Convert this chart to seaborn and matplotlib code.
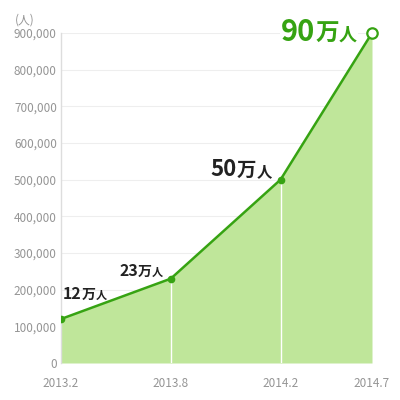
import matplotlib
matplotlib.use("Agg")
import matplotlib.pyplot as plt
import matplotlib.transforms as mtransforms
from matplotlib.ticker import FuncFormatter
import seaborn as sns
import pandas as pd

# data
months = [0, 6, 12, 17]          # months since 2013.2
period_labels = ["2013.2", "2013.8", "2014.2", "2014.7"]
users = [120000, 230000, 500000, 900000]
man_labels = ["12", "23", "50", "90"]

GREEN = "#36a312"
FILL = "#bfe69a"
GRAY = "#959595"

sns.set_theme(style="white")
plt.rcParams["font.family"] = ["Noto Sans CJK JP", "DejaVu Sans"]

df = pd.DataFrame({"month": months, "users": users})

fig = plt.figure(figsize=(4, 4), dpi=100)
ax = fig.add_axes([0.1525, 0.0925, 0.93 - 0.1525, 0.9175 - 0.0925])

ax.set_axisbelow(True)
ax.yaxis.grid(True, color="#eeeeee", lw=0.8)
ax.fill_between(df["month"], df["users"], 0, color=FILL, lw=0, zorder=2)
ax.vlines(months[1:3], 0, users[1:3], color="white", lw=1, zorder=2.5)
sns.lineplot(data=df, x="month", y="users", color=GREEN, lw=1.8, ax=ax, zorder=3)
ax.plot(months[:3], users[:3], "o", color=GREEN, ms=4.5, zorder=4)
ax.plot(months[3:], users[3:], "o", mfc="white", mec=GREEN, mew=1.6, ms=7.5,
        zorder=5, clip_on=False)

ax.set_xlim(0, 17)
ax.set_ylim(0, 900000)
ax.set_xticks(months)
ax.set_xticklabels(period_labels)
ax.set_yticks(range(0, 900001, 100000))
ax.yaxis.set_major_formatter(FuncFormatter(lambda v, p: f"{v:,.0f}"))
ax.tick_params(axis="both", length=0, labelsize=8.5, labelcolor=GRAY)
ax.tick_params(axis="x", pad=10)
ax.tick_params(axis="y", pad=3)
ax.set_xlabel("")
ax.set_ylabel("")
for s in ["top", "right", "bottom"]:
    ax.spines[s].set_visible(False)
ax.spines["left"].set_color("#dddddd")
ax.spines["left"].set_linewidth(1)

fig.text(15 / 400, 1 - 24 / 400, "(人)", color=GRAY, fontsize=8.5)

renderer = fig.canvas.get_renderer()


def put_label(x, y, parts, dx, dy, align, color, box=False):
    texts = []
    for s, size in parts:
        t = ax.text(x, y, s, fontsize=size, fontweight="bold", color=color,
                    ha="left", va="baseline", zorder=6)
        if box:
            t.set_bbox(dict(facecolor="white", edgecolor="none", pad=1))
        texts.append(t)
    widths = [t.get_window_extent(renderer).width for t in texts]
    start = dx - sum(widths) if align == "right" else dx
    for t, w in zip(texts, widths):
        off = mtransforms.ScaledTranslation(start / fig.dpi, dy / fig.dpi, fig.dpi_scale_trans)
        t.set_transform(ax.transData + off)
        start += w


put_label(months[0], users[0], [(man_labels[0], 11.5), ("万", 10), ("人", 8)],
          2, 20, "left", "#222222")
put_label(months[1], users[1], [(man_labels[1], 11.5), ("万", 10), ("人", 8)],
          -8, 3, "right", "#222222")
put_label(months[2], users[2], [(man_labels[2], 16), ("万", 14), ("人", 11)],
          -9, 4, "right", "#222222")
put_label(months[3], users[3], [(man_labels[3], 21), ("万", 17), ("人", 13)],
          -15, -8, "right", GREEN, box=True)

fig.savefig("out.png", dpi=100)
